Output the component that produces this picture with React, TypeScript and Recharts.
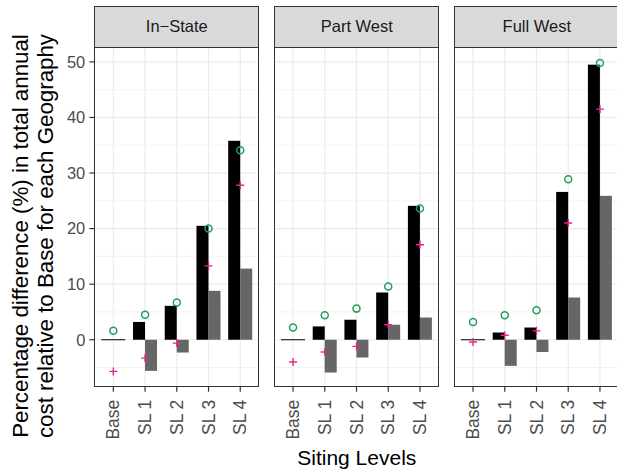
import React from 'react'
import { ComposedChart, Bar, Line, XAxis, YAxis, CartesianGrid } from 'recharts'

// Siting levels on the x axis of every panel
const LEVELS = ['Base', 'SL 1', 'SL 2', 'SL 3', 'SL 4']
const GEOGRAPHIES = ['In−State', 'Part West', 'Full West']

// black bars
const totalCost = [
  [0, 3.2, 6.1, 20.5, 35.8],
  [0, 2.4, 3.6, 8.5, 24.1],
  [0, 1.3, 2.2, 26.6, 49.5],
]
// grey bars
const otherCost = [
  [0, -5.6, -2.3, 8.8, 12.8],
  [0, -5.9, -3.2, 2.7, 4.0],
  [0, -4.7, -2.2, 7.6, 25.9],
]
// green open circles
const circleVals = [
  [1.6, 4.5, 6.7, 20.0, 34.1],
  [2.2, 4.4, 5.6, 9.6, 23.6],
  [3.2, 4.4, 5.3, 28.9, 49.8],
]
// magenta plus marks
const plusVals = [
  [-5.7, -3.3, -0.6, 13.3, 27.8],
  [-4.0, -2.2, -1.2, 2.7, 17.1],
  [-0.4, 0.8, 1.6, 21.0, 41.5],
]

const Y_TICKS = [0, 10, 20, 30, 40, 50]
const Y_MINOR = [-5, 5, 15, 25, 35, 45]
const Y_DOMAIN = [-8.45, 52.5]

const FONT = '"Liberation Sans", Arial, Helvetica, sans-serif'
const PANEL_W = 165
const PANEL_TOP = 48
const PANEL_BOTTOM = 386.7
const PANEL_LEFTS = [94.3, 274.3, 454.3]
const STRIP_TOP = 5.7
const CHART_H = 475

const BarShape = (props: any) => {
  const { x, y, width, height, fill } = props
  if (!height || Math.abs(height) < 0.5) {
    return <rect x={x} y={y - 0.5} width={width} height={1} fill="#000" />
  }
  return <rect x={x} y={height < 0 ? y + height : y} width={width} height={Math.abs(height)} fill={fill} />
}

const CircleDot = (props: any) => {
  const { cx, cy, index } = props
  if (cx == null || cy == null) return <g key={index} />
  return <circle key={index} cx={cx} cy={cy} r={3.5} fill="none" stroke="#1FA05A" strokeWidth={1.5} />
}

const PlusDot = (props: any) => {
  const { cx, cy, index } = props
  if (cx == null || cy == null) return <g key={index} />
  const s = 4
  return (
    <g key={index}>
      <line x1={cx - s} x2={cx + s} y1={cy} y2={cy} stroke="#DD2A8C" strokeWidth={1.4} />
      <line x1={cx} x2={cx} y1={cy - s} y2={cy + s} stroke="#DD2A8C" strokeWidth={1.4} />
    </g>
  )
}

const XTick = (props: any) => {
  const { x, y, payload } = props
  return (
    <g transform={`translate(${x},${y})`}>
      <text transform="rotate(-90)" x={-6} y={0} dy="0.35em" textAnchor="end" fill="#4D4D4D" fontSize={17.5} fontFamily={FONT}>
        {payload.value}
      </text>
    </g>
  )
}

function Panel({ idx }: { idx: number }) {
  const first = idx === 0
  const axisW = first ? PANEL_LEFTS[0] : 0
  const left = first ? 0 : PANEL_LEFTS[idx]
  const data = LEVELS.map((lv, i) => ({
    level: lv,
    total: totalCost[idx][i],
    other: otherCost[idx][i],
    circle: circleVals[idx][i],
    plus: plusVals[idx][i],
  }))
  const unit = PANEL_W / 5.2
  return (
    <div style={{ position: 'absolute', left, top: 0 }}>
      <ComposedChart
        width={axisW + PANEL_W}
        height={CHART_H}
        data={data}
        margin={{ top: PANEL_TOP, right: 0, bottom: 0, left: 0 }}
        barGap={0}
        barCategoryGap="12%"
      >
        <CartesianGrid horizontalValues={Y_MINOR} vertical={false} stroke="#EBEBEB" strokeWidth={0.6} />
        <CartesianGrid horizontalValues={Y_TICKS} stroke="#EBEBEB" strokeWidth={1.2} />
        <XAxis
          dataKey="level"
          height={CHART_H - PANEL_BOTTOM}
          padding={{ left: unit * 0.1, right: unit * 0.1 }}
          axisLine={false}
          tickLine={{ stroke: '#333333', strokeWidth: 1.2 }}
          tickSize={5}
          tick={<XTick />}
          interval={0}
        />
        <YAxis
          hide={!first}
          width={axisW}
          domain={Y_DOMAIN}
          ticks={Y_TICKS}
          allowDataOverflow
          axisLine={false}
          tickLine={{ stroke: '#333333', strokeWidth: 1.2 }}
          tickSize={5}
          tickMargin={4}
          tick={{ fill: '#4D4D4D', fontSize: 16.5, fontFamily: FONT }}
        />
        <Bar dataKey="total" fill="#000000" shape={<BarShape />} isAnimationActive={false} />
        <Bar dataKey="other" fill="#666666" shape={<BarShape />} isAnimationActive={false} />
        <Line dataKey="circle" stroke="none" dot={<CircleDot />} activeDot={false} isAnimationActive={false} />
        <Line dataKey="plus" stroke="none" dot={<PlusDot />} activeDot={false} isAnimationActive={false} />
      </ComposedChart>
    </div>
  )
}

export default function App() {
  return (
    <div style={{ position: 'relative', width: 617, height: 475, overflow: 'hidden', background: '#fff', fontFamily: FONT }}>
      <style>{'body{margin:0}'}</style>
      {GEOGRAPHIES.map((g, i) => (
        <Panel key={g} idx={i} />
      ))}
      {GEOGRAPHIES.map((g, i) => (
        <React.Fragment key={'f' + g}>
          <div
            style={{
              position: 'absolute',
              left: PANEL_LEFTS[i],
              top: STRIP_TOP,
              width: PANEL_W,
              height: PANEL_TOP - STRIP_TOP,
              boxSizing: 'border-box',
              background: '#D9D9D9',
              border: '1.1px solid #333333',
              color: '#1A1A1A',
              fontSize: 16.5,
              display: 'flex',
              alignItems: 'center',
              justifyContent: 'center',
            }}
          >
            {g}
          </div>
          <div
            style={{
              position: 'absolute',
              left: PANEL_LEFTS[i],
              top: PANEL_TOP - 1,
              width: PANEL_W,
              height: PANEL_BOTTOM - PANEL_TOP + 1,
              boxSizing: 'border-box',
              border: '1.1px solid #333333',
              pointerEvents: 'none',
            }}
          />
        </React.Fragment>
      ))}
      <div
        style={{
          position: 'absolute',
          left: 356.8 - 150,
          width: 300,
          top: 446,
          textAlign: 'center',
          fontSize: 21,
          color: '#000',
        }}
      >
        Siting Levels
      </div>
      <div
        style={{
          position: 'absolute',
          left: 33 - 250,
          top: 236 - 25,
          width: 500,
          height: 50,
          transform: 'rotate(-90deg)',
          textAlign: 'center',
          fontSize: 22.3,
          lineHeight: '25px',
          color: '#000',
        }}
      >
        Percentage difference (%) in total annual
        <br />
        cost relative to Base for each Geography
      </div>
    </div>
  )
}
